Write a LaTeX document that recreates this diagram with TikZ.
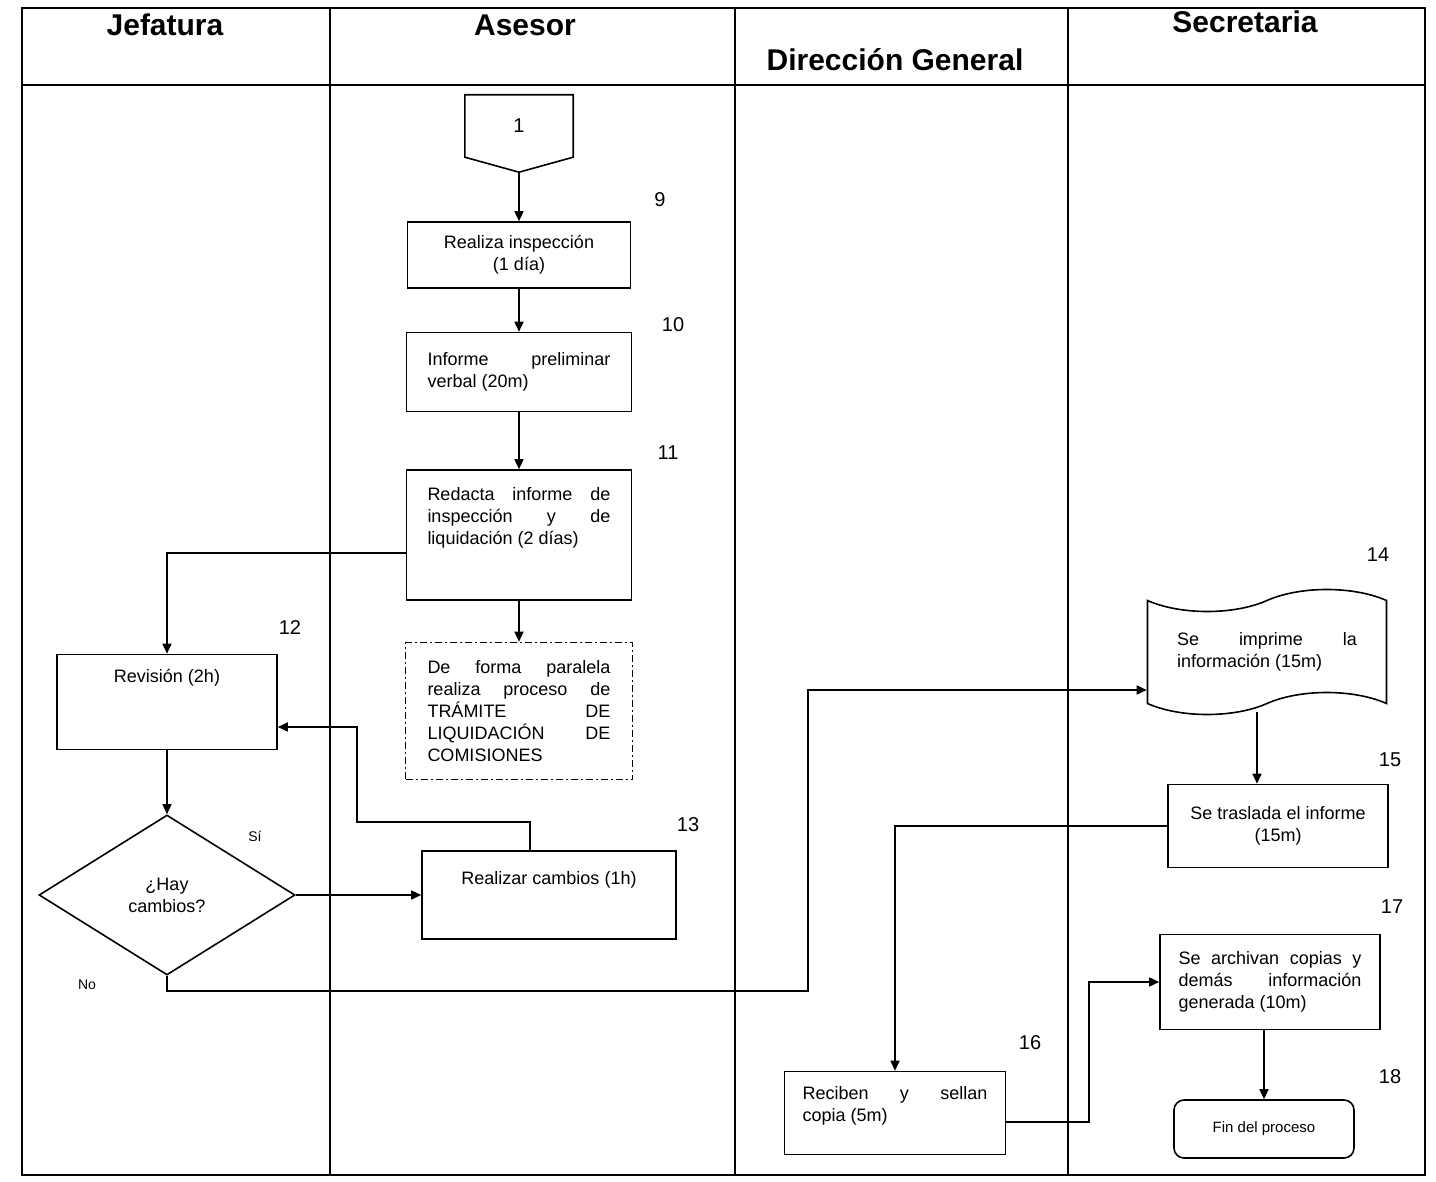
\documentclass[tikz,border=0pt]{standalone}
\usepackage{fontspec}
\setmainfont{Liberation Sans}
\usetikzlibrary{arrows.meta,shapes.geometric,shapes.symbols,calc}
\hyphenpenalty=10000
\exhyphenpenalty=10000
\tolerance=10000
% box text: 18pt with very stretchable interword space for justified lines
\newcommand\stepfont{\fontsize{18}{22}\selectfont\spaceskip=0.28em plus 8em minus 0.05em\relax}
\begin{document}
\begin{tikzpicture}[x=1pt,y=-1pt,
  every node/.style={inner sep=0pt},
  lane/.style={line width=1.6pt},
  box/.style={draw,line width=1.6pt,font=\stepfont},
  jbox/.style={box,align=justify,text width=#1},
  cbox/.style={box,align=center},
  lanehead/.style={font=\bfseries\fontsize{30}{34}\selectfont},
  stepno/.style={font=\fontsize{20}{24}\selectfont},
  answer/.style={font=\fontsize{14}{16}\selectfont},
  link/.style={line width=1.6pt},
  arr/.style={line width=1.6pt,-{Triangle[length=10pt,width=9pt]}},
  dashdot/.style={dash pattern=on 7pt off 3pt on 2pt off 3pt}]

\useasboundingbox (0,0) rectangle (1436,1182);

% swimlane frame
\draw[lane] (22,8) rectangle (1425,1175);
\draw[lane] (22,85) -- (1425,85);
\draw[lane] (330,8) -- (330,1175);
\draw[lane] (735,8) -- (735,1175);
\draw[lane] (1068,8) -- (1068,1175);

% lane titles
\node[lanehead] (hJ) at (165,25) {Jefatura};
\node[lanehead] (hA) at (525,25) {Asesor};
\node[lanehead] (hD) at (895,60) {Dirección General};
\node[lanehead] (hS) at (1245,22) {Secretaria};

% off-page connector
\node[font=\fontsize{20}{24}\selectfont, minimum width=108, minimum height=62] (c1) at (519,126) {1};
\coordinate (c1tip) at ($(c1.south)+(0,15)$);
\draw[link] (c1.north west) -- (c1.north east) -- (c1.south east) -- (c1tip) -- (c1.south west) -- cycle;

% Asesor steps
\node[cbox, minimum width=223, minimum height=66] (b9) at (519,255) {Realiza inspección\\(1 día)};
\node[jbox=183pt, minimum width=225, minimum height=79] (b10) at (519,372) {Informe preliminar\linebreak verbal (20m)};
\node[jbox=183pt, minimum width=225, minimum height=130, text height=30pt, text depth=100pt] (b11) at (519,535) {Redacta informe de\linebreak inspección y de\linebreak liquidación (2 días)};
\node[jbox=183pt, dashdot, minimum width=227, minimum height=137] (bd) at (519,711) {De forma paralela\linebreak realiza proceso de\linebreak TRÁMITE DE\linebreak LIQUIDACIÓN DE\linebreak COMISIONES};
\node[cbox, minimum width=254, minimum height=88, text height=33pt, text depth=55pt] (b13) at (549,895) {Realizar cambios (1h)};

% Jefatura steps
\node[cbox, minimum width=220, minimum height=95, text height=28pt, text depth=67pt] (b12) at (167,702) {Revisión (2h)};
\node[box, diamond, minimum width=256, minimum height=160, align=center] (dia) at (167,895) {¿Hay\\cambios?};

% Secretaria / Dirección General steps
\node[box, tape, tape bend height=22pt, minimum width=239, minimum height=125, align=justify, text width=180pt] (t14) at (1267,652) {Se imprime la\linebreak información (15m)};
\node[cbox, minimum width=220, minimum height=83] (b15) at (1278,826) {Se traslada el informe\\(15m)};
\node[jbox=185pt, minimum width=221, minimum height=83, text height=28pt, text depth=55pt] (b16) at (895,1113) {Reciben y sellan\linebreak copia (5m)};
\node[jbox=183pt, minimum width=220, minimum height=95] (b17) at (1270,982) {Se archivan copias y\linebreak demás información\linebreak generada (10m)};
\node[box, rounded corners=10pt, minimum width=180, minimum height=58, font=\fontsize{15}{18}\selectfont] (r18) at (1264,1129) {Fin del proceso};

% step numbers
\node[stepno] (n9) at (660,200) {9};
\node[stepno] (n10) at (673,325) {10};
\node[stepno] (n11) at (668,453) {11};
\node[stepno] (n12) at (290,628) {12};
\node[stepno] (n13) at (688,825) {13};
\node[stepno] (n14) at (1378,555) {14};
\node[stepno] (n15) at (1390,760) {15};
\node[stepno] (n16) at (1030,1043) {16};
\node[stepno] (n17) at (1392,907) {17};
\node[stepno] (n18) at (1390,1077) {18};
\node[answer] (si) at (255,836) {Sí};
\node[answer] (no) at (87,985) {No};

% flow
\draw[arr] (c1tip) -- (b9.north);
\draw[arr] (b9) -- (b10);
\draw[arr] (b10) -- (b11);
\draw[arr] (b11) -- (bd);
\draw[arr] ($(b11.west)+(0,18)$) -| (b12.north);
\draw[arr] (b12) -- (dia);
\draw[arr] (dia) -- (b13);
\draw[arr] ($(b13.north)+(-19,0)$) |- (357,822) |- ($(b12.east)+(0,25)$);
\draw[arr] (dia.south) -- ++(0,15) -| (808,690) -- ($(t14.west)+(0,38)$);
\coordinate (p14) at ($(t14.south)+(-10,8)$);
\draw[arr] (p14) -- (p14 |- b15.north);
\draw[arr] (b15.west) -| (b16.north);
\draw[arr] ($(b16.east)+(0,9)$) -| ($(b17.west)+(-70,0)$) -- (b17.west);
\draw[arr] (b17.south -| r18.north) -- (r18.north);
\end{tikzpicture}
\end{document}
